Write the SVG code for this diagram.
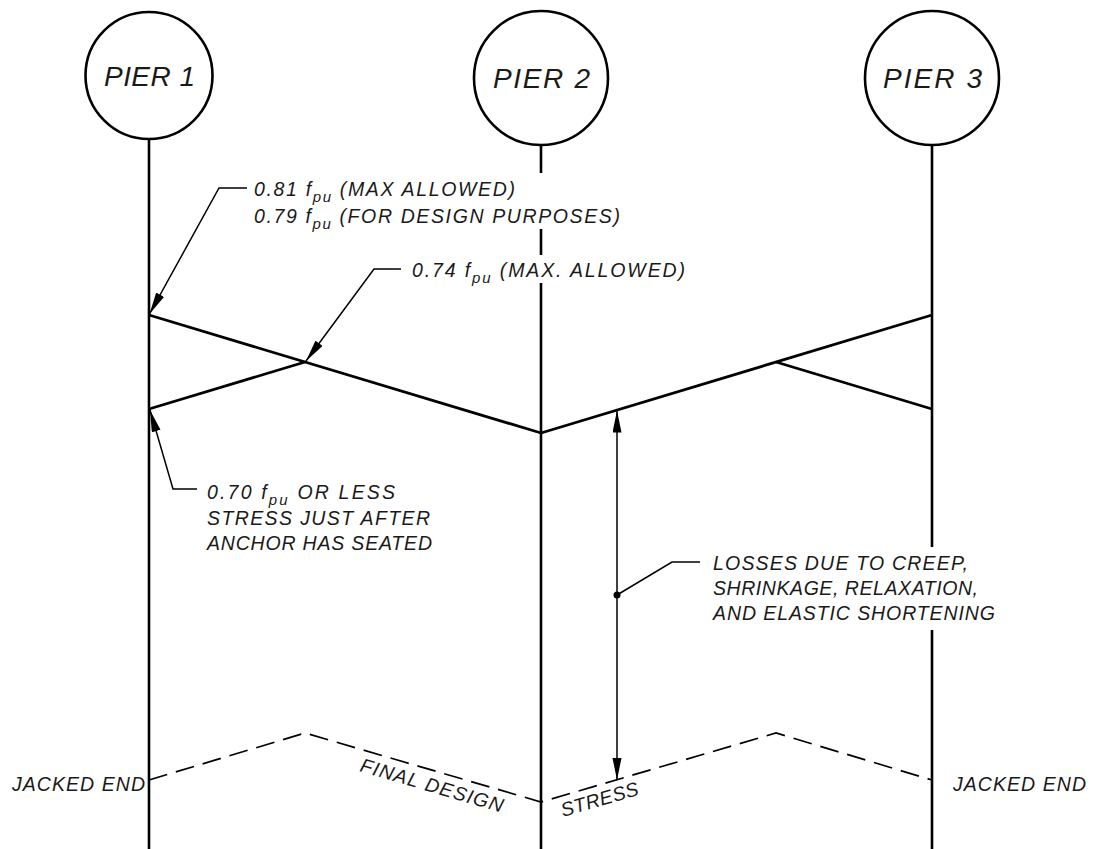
<svg xmlns="http://www.w3.org/2000/svg" width="1093" height="849" viewBox="0 0 1093 849">
<style>
.t{font-family:"Liberation Sans",Arial,sans-serif;font-style:italic;font-size:19.5px;fill:#1a1a1a}
.p{font-size:28px}
.s{font-size:15px}
.pier{fill:none;stroke:#000;stroke-width:2.6}
.col{stroke:#000;stroke-width:2.6;fill:none}
.st{stroke:#000;stroke-width:2.8;fill:none}
.ld{stroke:#000;stroke-width:1.5;fill:none}
.da{stroke:#000;stroke-width:1.7;fill:none;stroke-dasharray:19 9}
</style>
<defs>
<marker id="ah" markerUnits="userSpaceOnUse" markerWidth="24" markerHeight="10" refX="22" refY="4.5" orient="auto" viewBox="0 0 24 10">
<path d="M0,0 L22,4.5 L0,9 z" fill="#000"/>
</marker>
</defs>
<rect width="1093" height="849" fill="#fff"/>

<g id="pier1">
<circle class="pier" cx="149" cy="75.5" r="63.5"/>
<text class="t p" x="104" y="86" textLength="91" lengthAdjust="spacing">PIER 1</text>
<line class="col" x1="149" y1="139" x2="149" y2="849"/>
</g>
<g id="pier2">
<circle class="pier" cx="541" cy="78" r="67"/>
<text class="t p" x="493" y="88" textLength="97" lengthAdjust="spacing">PIER 2</text>
<path class="col" d="M541,145 V173 M541,229 V255 M541,283 V849"/>
</g>
<g id="pier3">
<circle class="pier" cx="932" cy="78" r="67"/>
<text class="t p" x="883" y="88" textLength="99" lengthAdjust="spacing">PIER 3</text>
<path class="col" d="M932,145 V547 M932,630 V849"/>
</g>

<g id="stress-lines">
<line class="st" x1="149" y1="315" x2="541" y2="433"/>
<line class="st" x1="149" y1="409" x2="305" y2="362"/>
<line class="st" x1="541" y1="433" x2="932" y2="315"/>
<line class="st" x1="932" y1="409" x2="776" y2="362"/>
<polyline class="da" points="149,780 305,733 541,802 776,733 932,780"/>
</g>

<g id="connectors">
<path class="ld" d="M247,188 H219 L149.5,314" marker-end="url(#ah)"/>
<path class="ld" d="M401,269 H374 L306,361" marker-end="url(#ah)"/>
<path class="ld" d="M197,489 H173 L150,410" marker-end="url(#ah)"/>
<path class="ld" d="M617,595 V410.5" marker-end="url(#ah)"/>
<path class="ld" d="M617,595 V780" marker-end="url(#ah)"/>
<path class="ld" d="M700,562 H672 L617,595"/>
<circle cx="617" cy="595" r="3.5" fill="#000"/>
</g>

<g id="labels">
<text class="t" x="254" y="196" textLength="261" lengthAdjust="spacing">0.81 f<tspan class="s" dy="6">pu</tspan><tspan dy="-6"> (MAX ALLOWED)</tspan></text>
<text class="t" x="254" y="223" textLength="366" lengthAdjust="spacing">0.79 f<tspan class="s" dy="6">pu</tspan><tspan dy="-6"> (FOR DESIGN PURPOSES)</tspan></text>
<text class="t" x="412" y="277" textLength="273" lengthAdjust="spacing">0.74 f<tspan class="s" dy="6">pu</tspan><tspan dy="-6"> (MAX. ALLOWED)</tspan></text>
<text class="t" x="207" y="499" textLength="188" lengthAdjust="spacing">0.70 f<tspan class="s" dy="6">pu</tspan><tspan dy="-6"> OR LESS</tspan></text>
<text class="t" x="207" y="525" textLength="223" lengthAdjust="spacing">STRESS JUST AFTER</text>
<text class="t" x="207" y="550" textLength="225" lengthAdjust="spacing">ANCHOR HAS SEATED</text>
<text class="t" x="713" y="570" textLength="255" lengthAdjust="spacing">LOSSES DUE TO CREEP,</text>
<text class="t" x="713" y="595" textLength="265" lengthAdjust="spacing">SHRINKAGE, RELAXATION,</text>
<text class="t" x="713" y="620" textLength="282" lengthAdjust="spacing">AND ELASTIC SHORTENING</text>
<text class="t" x="12" y="791" textLength="133" lengthAdjust="spacing">JACKED END</text>
<text class="t" x="953" y="791" textLength="133" lengthAdjust="spacing">JACKED END</text>
<text class="t" transform="translate(359,771) rotate(16.3)" textLength="148" lengthAdjust="spacing">FINAL DESIGN</text>
<text class="t" transform="translate(563,817) rotate(-16.3)" textLength="80" lengthAdjust="spacing">STRESS</text>
</g>
</svg>
